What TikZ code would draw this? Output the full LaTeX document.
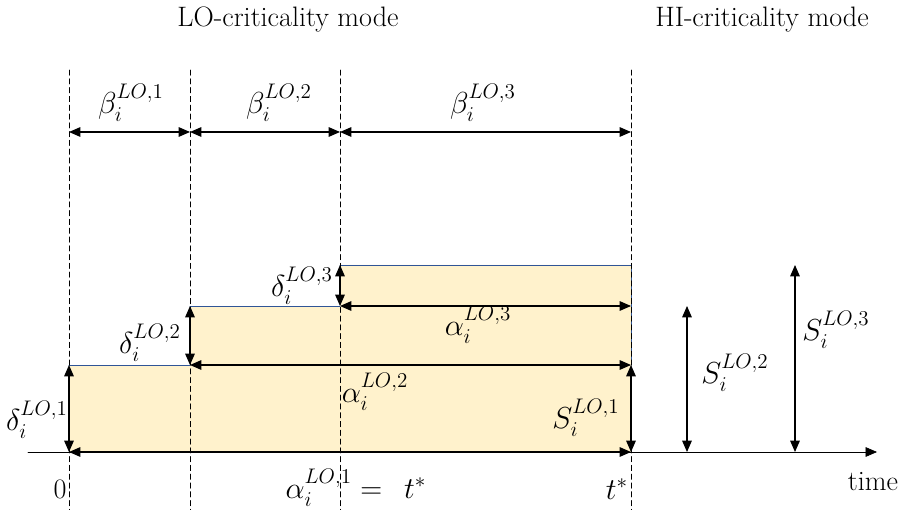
\documentclass[tikz,border=0pt]{standalone}
\usetikzlibrary{arrows.meta}
\usepackage{amsmath,amssymb}
\definecolor{fillT}{RGB}{255,242,204}
\definecolor{edgeB}{RGB}{47,85,151}

\begin{document}
\begin{tikzpicture}[x=0.02cm, y=-0.02cm, >={Triangle[length=6.5pt,width=5.5pt]}, line cap=round,
  font=\fontsize{16}{19}\selectfont]
\tikzset{guide/.style={densely dashed, thin},
  dim/.style={<->, semithick},
  lbl/.style={inner sep=1pt, font=\fontsize{17.5}{20}\selectfont}}
\useasboundingbox (0,0) rectangle (907,510);
% ---------- points ----------
\foreach \i/\x in {0/69,1/190,2/340,3/631} {
  \coordinate (g\i) at (\x,70);
  \coordinate (h\i) at (\x,510);
  \coordinate (b\i) at (\x,132);
}
\coordinate (o)  at (69,452);
\coordinate (ts) at (631,452);
\coordinate (l1) at (69,365);
\coordinate (c2) at (190,365);
\coordinate (l2) at (190,306);
\coordinate (c3) at (340,306);
\coordinate (l3) at (340,265);
\coordinate (e1) at (631,365);
\coordinate (e2) at (631,306);
\coordinate (e3) at (631,265);
\coordinate (ax0) at (28,452);
\coordinate (ax1) at (877,452);
\coordinate (s2b) at (687,452);
\coordinate (s2t) at (687,306);
\coordinate (s3b) at (795,452);
\coordinate (s3t) at (795,265);
% ---------- budget steps ----------
\fill[fillT] (o) -- (l1) -- (c2) -- (l2) -- (c3) -- (l3) -- (e3) -- (ts) -- cycle;
\draw[edgeB, thin] (l1) -- (c2) (l2) -- (c3) (l3) -- (e3) -- (e1);
% guides
\foreach \i in {0,...,3}
  \draw[guide] (g\i) -- (h\i);
% time axis
\draw[->, thin] (ax0) -- (ax1);
% ---------- LO-mode arrows ----------
\draw[dim] (b0) -- (b1);
\draw[dim] (b1) -- (b2);
\draw[dim] (b2) -- (b3);
\draw[dim] (o) -- (l1);
\draw[dim] (c2) -- (l2);
\draw[dim] (c3) -- (l3);
\draw[dim] (o) -- (ts);
\draw[dim] (c2) -- (e1);
\draw[dim] (c3) -- (e2);
% ---------- HI-mode arrows ----------
\draw[dim] (ts) -- (e1);
\draw[dim] (s2b) -- (s2t);
\draw[dim] (s3b) -- (s3t);
% ---------- labels ----------
\node (lotitle) at (288,20) {LO-criticality mode};
\node (hititle) at (762,20) {HI-criticality mode};
\node[lbl] (beta1) at (131,103) {$\beta_i^{LO,1}$};
\node[lbl] (beta2) at (279,103) {$\beta_i^{LO,2}$};
\node[lbl] (beta3) at (483,103) {$\beta_i^{LO,3}$};
\node[lbl] (delta1) at (37,420) {$\delta_i^{LO,1}$};
\node[lbl] (delta2) at (150,343) {$\delta_i^{LO,2}$};
\node[lbl] (delta3) at (302,286) {$\delta_i^{LO,3}$};
\node[lbl] (alpha2) at (375,392) {$\alpha_i^{LO,2}$};
\node[lbl] (alpha3) at (478,325) {$\alpha_i^{LO,3}$};
\node[lbl] (S1) at (586,418) {$S_i^{LO,1}$};
\node[lbl] (S2) at (735,373) {$S_i^{LO,2}$};
\node[lbl] (S3) at (836,330) {$S_i^{LO,3}$};
\node (zero) at (60,489) {0};
\node[lbl] (alpha1) at (356,488) {$\alpha_i^{LO,1} =\;\, t^*$};
\node[lbl] (tstar) at (617,489) {$t^*$};
\node (time) at (873,482) {time};
\end{tikzpicture}
\end{document}
